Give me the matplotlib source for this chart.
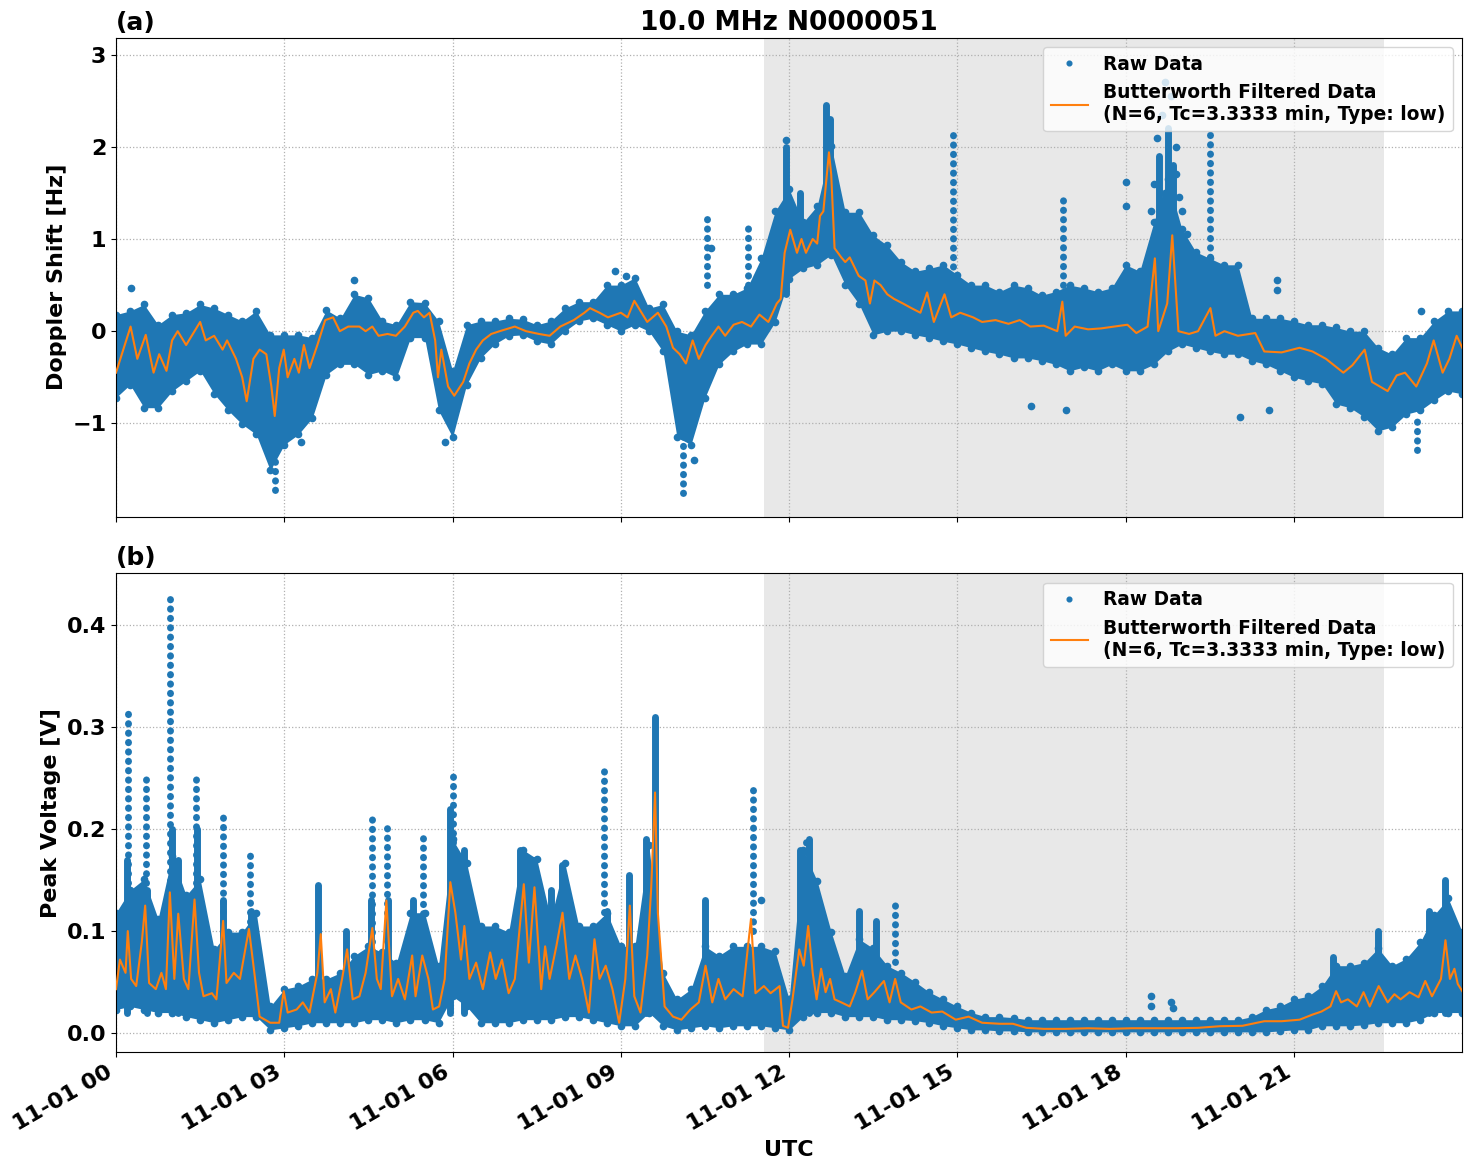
import numpy as np
import pandas as pd
import matplotlib
matplotlib.use('Agg')
import matplotlib.pyplot as plt
import matplotlib.dates as mdates

plt.rcParams['font.family'] = ['DejaVu Sans']
plt.rcParams['font.weight'] = 'bold'
plt.rcParams['axes.labelweight'] = 'bold'
plt.rcParams['axes.titleweight'] = 'bold'

base = pd.Timestamp('2023-11-01 00:00')

# ---------------- (a) Doppler shift ----------------
# raw-data band, sampled every 15 min (hours 0..24)
band_t = np.arange(0, 24.01, 0.25)
dop_hi = [0.18, 0.22, 0.29, 0.07, 0.18, 0.2, 0.29, 0.25, 0.18, 0.11, 0.22, -0.04,
          -0.04, -0.04, -0.07, 0.23, 0.14, 0.4, 0.36, 0.11, 0.07, 0.32, 0.31, 0.11,
          -0.43, 0.07, 0.11, 0.11, 0.14, 0.13, 0.07, 0.11, 0.25, 0.32, 0.32, 0.5,
          0.5, 0.58, 0.25, 0.29, 0.0, -0.04, 0.22, 0.4, 0.4, 0.47, 0.79, 1.3,
          1.54, 1.18, 1.36, 2.01, 1.29, 1.29, 1.04, 0.93, 0.75, 0.65, 0.68, 0.72,
          0.61, 0.5, 0.5, 0.43, 0.5, 0.47, 0.39, 0.43, 0.5, 0.47, 0.43, 0.47,
          0.72, 0.65, 1.18, 1.65, 1.11, 0.86, 0.79, 0.72, 0.72, 0.14, 0.14, 0.14,
          0.11, 0.07, 0.07, 0.04, 0.0, 0.0, -0.18, -0.25, -0.07, -0.07, 0.11, 0.22,
          0.22]
dop_lo = [-0.72, -0.58, -0.83, -0.83, -0.65, -0.54, -0.43, -0.68, -0.86, -1.01, -1.12, -1.51,
          -1.23, -1.12, -0.94, -0.47, -0.36, -0.36, -0.47, -0.43, -0.5, -0.07, -0.07, -0.86,
          -1.15, -0.58, -0.29, -0.14, -0.05, -0.04, -0.11, -0.14, 0.0, 0.11, 0.14, 0.07,
          0.0, 0.07, 0.0, -0.22, -1.15, -1.23, -0.72, -0.36, -0.22, -0.14, -0.14, 0.1,
          0.57, 0.68, 0.72, 0.83, 0.5, 0.29, -0.04, 0.0, 0.0, -0.04, -0.07, -0.11,
          -0.14, -0.18, -0.22, -0.25, -0.29, -0.29, -0.32, -0.36, -0.43, -0.39, -0.43, -0.36,
          -0.43, -0.43, -0.36, -0.22, -0.14, -0.18, -0.22, -0.25, -0.25, -0.32, -0.36, -0.43,
          -0.5, -0.54, -0.57, -0.79, -0.83, -0.93, -1.08, -1.04, -0.9, -0.86, -0.75, -0.65,
          -0.68]

# Butterworth filtered line (hour, value)
dop_ft = [0.0, 0.26, 0.38, 0.53, 0.67, 0.77, 0.9, 1.0, 1.1, 1.25, 1.5, 1.6, 1.75, 1.9, 1.98,
          2.14, 2.25, 2.33, 2.45, 2.56, 2.68, 2.77, 2.83, 2.91, 2.99, 3.06, 3.18, 3.26, 3.35,
          3.45, 3.59, 3.73, 3.87, 3.99, 4.14, 4.34, 4.45, 4.57, 4.68, 4.84, 4.99, 5.15, 5.3,
          5.38, 5.49, 5.59, 5.69, 5.74, 5.8, 5.92, 6.03, 6.19, 6.3, 6.42, 6.54, 6.69, 6.84,
          7.11, 7.31, 7.54, 7.73, 7.92, 8.16, 8.35, 8.45, 8.62, 8.77, 9.0, 9.12, 9.24, 9.47,
          9.66, 9.81, 9.93, 10.05, 10.16, 10.28, 10.39, 10.51, 10.62, 10.74, 10.86, 11.01,
          11.16, 11.32, 11.47, 11.63, 11.78, 11.85, 11.92, 12.02, 12.14, 12.22, 12.3, 12.42,
          12.5, 12.55, 12.61, 12.71, 12.75, 12.81, 12.93, 13.0, 13.08, 13.24, 13.36, 13.44,
          13.52, 13.63, 13.75, 13.87, 14.03, 14.18, 14.34, 14.46, 14.58, 14.77, 14.89, 15.05,
          15.28, 15.44, 15.68, 15.91, 16.11, 16.3, 16.54, 16.78, 16.87, 16.93, 17.09, 17.33,
          17.56, 17.8, 18.03, 18.19, 18.39, 18.52, 18.58, 18.74, 18.83, 18.94, 19.13, 19.29,
          19.51, 19.6, 19.76, 20.0, 20.31, 20.47, 20.78, 21.1, 21.33, 21.57, 21.88, 22.04,
          22.26, 22.39, 22.67, 22.83, 22.98, 23.18, 23.37, 23.49, 23.65, 23.77, 23.9, 24.0]
dop_fv = [-0.45, 0.05, -0.3, -0.04, -0.45, -0.25, -0.43, -0.1, 0.0, -0.15, 0.1, -0.1, -0.05, -0.2, -0.1,
          -0.3, -0.5, -0.76, -0.3, -0.2, -0.25, -0.6, -0.92, -0.4, -0.2, -0.5, -0.3, -0.45, -0.15,
          -0.4, -0.15, 0.12, 0.15, 0.0, 0.05, 0.05, 0.0, 0.05, -0.05, -0.03, -0.05, 0.05, 0.2,
          0.22, 0.15, 0.2, -0.1, -0.5, -0.2, -0.6, -0.7, -0.55, -0.35, -0.2, -0.1, -0.03, 0.0,
          0.05, 0.0, -0.03, -0.05, 0.05, 0.12, 0.2, 0.25, 0.2, 0.15, 0.2, 0.15, 0.33, 0.1,
          0.2, 0.05, -0.18, -0.25, -0.35, -0.1, -0.3, -0.15, -0.05, 0.05, -0.05, 0.07,
          0.1, 0.05, 0.18, 0.1, 0.3, 0.35, 0.85, 1.1, 0.85, 1.0, 0.85, 1.0,
          0.95, 1.25, 1.3, 1.94, 1.7, 0.9, 0.8, 0.75, 0.8, 0.6, 0.55, 0.3,
          0.55, 0.5, 0.4, 0.35, 0.3, 0.25, 0.2, 0.42, 0.1, 0.4, 0.15, 0.2,
          0.15, 0.1, 0.12, 0.08, 0.12, 0.05, 0.06, 0.0, 0.32, -0.05, 0.05, 0.02,
          0.03, 0.05, 0.07, -0.02, 0.05, 0.79, 0.0, 0.3, 1.04, 0.0, -0.03, 0.0,
          0.25, -0.05, 0.0, -0.05, -0.02, -0.22, -0.23, -0.18, -0.22, -0.3, -0.45, -0.37,
          -0.2, -0.55, -0.65, -0.48, -0.45, -0.6, -0.35, -0.1, -0.45, -0.3, -0.05, -0.18]

# dense bursts (hour, low, high) and dotted columns of sparse points
dop_burst_t = [11.95, 12.2, 12.65, 12.72, 18.6, 18.75, 18.85]
dop_burst_lo = [0.4, 0.8, 1.0, 1.0, 0.2, 0.2, 0.2]
dop_burst_hi = [2.0, 1.5, 2.45, 2.3, 1.9, 2.2, 1.8]
dop_col_t = [10.53, 14.93, 16.89, 19.5, 11.26, 2.83, 10.1, 23.19]
dop_col_lo = [0.5, 0.6, 0.5, 0.8, 0.5, -1.72, -1.76, -1.29]
dop_col_hi = [1.31, 2.17, 1.45, 2.14, 1.19, -1.2, -1.1, -0.9]
dop_pt_t = [0.27, 4.25, 5.87, 8.9, 9.1, 11.95, 18.0, 18.0, 18.7, 18.8, 18.9, 19.0, 20.7,
            20.7, 16.32, 16.93, 20.04, 20.55, 23.26, 3.3, 10.3, 10.6, 18.55, 18.65, 18.7,
            18.95, 18.5, 18.9, 19.1, 18.45]
dop_pt_v = [0.47, 0.56, -1.2, 0.65, 0.6, 2.07, 1.62, 1.36, 2.7, 2.55, 1.7, 1.3, 0.55,
            0.45, -0.81, -0.86, -0.93, -0.86, 0.22, -1.2, -1.4, 0.9, 2.1, 2.35, 1.5,
            1.45, 1.6, 2.0, 1.05, 1.3]

# ---------------- (b) Peak voltage ----------------
pv_hi = [0.118, 0.14, 0.151, 0.112, 0.174, 0.135, 0.151, 0.082, 0.099, 0.099, 0.118, 0.026,
         0.043, 0.046, 0.053, 0.053, 0.059, 0.076, 0.085, 0.079, 0.069, 0.118, 0.118, 0.066,
         0.19, 0.167, 0.105, 0.105, 0.099, 0.18, 0.171, 0.112, 0.167, 0.105, 0.105, 0.118,
         0.085, 0.085, 0.184, 0.059, 0.033, 0.043, 0.085, 0.076, 0.085, 0.085, 0.085, 0.08,
         0.033, 0.18, 0.149, 0.099, 0.056, 0.092, 0.083, 0.066, 0.059, 0.05, 0.04, 0.033,
         0.026, 0.02, 0.016, 0.016, 0.015, 0.013, 0.013, 0.013, 0.013, 0.013, 0.013, 0.013,
         0.013, 0.013, 0.013, 0.013, 0.013, 0.013, 0.013, 0.013, 0.013, 0.016, 0.023, 0.026,
         0.033, 0.036, 0.046, 0.066, 0.066, 0.069, 0.083, 0.066, 0.073, 0.089, 0.116, 0.132,
         0.099]
pv_lo = [0.023, 0.026, 0.023, 0.02, 0.02, 0.016, 0.013, 0.01, 0.013, 0.016, 0.016, 0.003,
         0.005, 0.007, 0.01, 0.01, 0.01, 0.01, 0.013, 0.013, 0.01, 0.013, 0.013, 0.01,
         0.036, 0.026, 0.01, 0.01, 0.01, 0.013, 0.013, 0.013, 0.016, 0.016, 0.013, 0.01,
         0.007, 0.007, 0.02, 0.007, 0.003, 0.005, 0.007, 0.005, 0.007, 0.007, 0.007, 0.005,
         0.003, 0.016, 0.02, 0.02, 0.016, 0.016, 0.016, 0.013, 0.013, 0.012, 0.01, 0.007,
         0.005, 0.003, 0.003, 0.002, 0.002, 0.001, 0.001, 0.001, 0.001, 0.001, 0.001, 0.001,
         0.001, 0.001, 0.001, 0.001, 0.001, 0.001, 0.001, 0.001, 0.001, 0.001, 0.001, 0.002,
         0.003, 0.003, 0.007, 0.007, 0.007, 0.008, 0.01, 0.01, 0.01, 0.013, 0.02, 0.02,
         0.02]

pv_ft = [0.0, 0.07, 0.17, 0.21, 0.27, 0.36, 0.46, 0.52, 0.59, 0.71, 0.81, 0.89, 0.96, 1.04,
         1.11, 1.21, 1.29, 1.4, 1.48, 1.56, 1.71, 1.79, 1.91, 1.97, 2.1, 2.21, 2.37, 2.48,
         2.56, 2.75, 2.91, 2.99, 3.06, 3.22, 3.33, 3.45, 3.59, 3.65, 3.72, 3.83, 3.91, 4.03,
         4.12, 4.22, 4.34, 4.45, 4.57, 4.65, 4.72, 4.82, 4.92, 5.03, 5.15, 5.28, 5.34, 5.46,
         5.57, 5.65, 5.76, 5.86, 5.96, 6.05, 6.15, 6.21, 6.3, 6.42, 6.54, 6.67, 6.77, 6.88,
         7.0, 7.11, 7.27, 7.36, 7.46, 7.58, 7.65, 7.73, 7.85, 7.96, 8.08, 8.19, 8.31, 8.43,
         8.53, 8.62, 8.73, 8.85, 8.97, 9.08, 9.16, 9.24, 9.35, 9.47, 9.54, 9.61, 9.66, 9.78,
         9.93, 10.08, 10.24, 10.39, 10.51, 10.63, 10.74, 10.86, 11.01, 11.17, 11.32, 11.4,
         11.55, 11.67, 11.83, 11.89, 11.98, 12.06, 12.18, 12.26, 12.34, 12.42, 12.49, 12.57,
         12.65, 12.73, 12.81, 12.93, 13.08, 13.18, 13.3, 13.4, 13.52, 13.69, 13.79, 13.89,
         13.99, 14.18, 14.34, 14.54, 14.73, 14.97, 15.2, 15.44, 15.75, 15.99, 16.23, 16.54,
         16.93, 17.33, 17.72, 18.11, 18.5, 18.9, 19.29, 19.68, 20.08, 20.47, 20.78, 21.1,
         21.33, 21.49, 21.65, 21.75, 21.84, 21.96, 22.12, 22.24, 22.35, 22.51, 22.67, 22.79,
         22.9, 23.06, 23.22, 23.34, 23.46, 23.62, 23.7, 23.78, 23.86, 23.92, 24.0]
pv_fv = [0.043, 0.072, 0.059, 0.1, 0.053, 0.046, 0.089, 0.125, 0.049, 0.043, 0.059, 0.043, 0.138, 0.053,
         0.117, 0.053, 0.043, 0.131, 0.059, 0.036, 0.039, 0.033, 0.11, 0.049, 0.059, 0.053, 0.102, 0.053,
         0.016, 0.01, 0.01, 0.041, 0.02, 0.023, 0.03, 0.02, 0.059, 0.097, 0.03, 0.043, 0.02, 0.053,
         0.082, 0.033, 0.036, 0.059, 0.103, 0.053, 0.043, 0.13, 0.036, 0.053, 0.033, 0.076, 0.036, 0.076,
         0.053, 0.023, 0.026, 0.053, 0.148, 0.118, 0.072, 0.105, 0.053, 0.069, 0.043, 0.079, 0.053, 0.072,
         0.039, 0.053, 0.146, 0.069, 0.143, 0.043, 0.085, 0.053, 0.085, 0.118, 0.053, 0.076, 0.053, 0.02,
         0.092, 0.053, 0.066, 0.043, 0.01, 0.053, 0.125, 0.036, 0.02, 0.076, 0.141, 0.236, 0.118, 0.026,
         0.016, 0.013, 0.023, 0.03, 0.066, 0.03, 0.053, 0.033, 0.043, 0.036, 0.112, 0.039,
         0.046, 0.039, 0.046, 0.007, 0.005, 0.033, 0.082, 0.066, 0.105, 0.059, 0.033, 0.063,
         0.04, 0.053, 0.033, 0.03, 0.026, 0.04, 0.061, 0.033, 0.04, 0.051, 0.03, 0.053,
         0.03, 0.023, 0.026, 0.02, 0.021, 0.013, 0.016, 0.01, 0.009, 0.009, 0.005, 0.004,
         0.004, 0.0046, 0.004, 0.0046, 0.0046, 0.0046, 0.005, 0.0066, 0.007, 0.0115, 0.0115, 0.013,
         0.018, 0.021, 0.026, 0.041, 0.03, 0.033, 0.026, 0.04, 0.026, 0.046, 0.03, 0.038,
         0.033, 0.04, 0.035, 0.051, 0.036, 0.053, 0.091, 0.053, 0.063, 0.048, 0.041]

pv_burst_t = [0.2, 0.55, 1.0, 1.1, 1.45, 1.9, 2.4, 3.6, 4.1, 4.55, 4.85, 5.3, 5.95, 6.2,
              7.2, 7.45, 7.75, 7.95, 8.75, 9.15, 9.45, 9.6, 10.5, 12.2, 12.35, 13.25, 13.55,
              21.7, 22.5, 23.4, 23.7]
pv_burst_lo = [0.02] * 31
pv_burst_hi = [0.17, 0.14, 0.2, 0.17, 0.2, 0.13, 0.12, 0.145, 0.1, 0.13, 0.13, 0.13, 0.22, 0.18,
               0.18, 0.17, 0.14, 0.165, 0.12, 0.155, 0.19, 0.31, 0.13, 0.18, 0.19, 0.12, 0.11,
               0.075, 0.1, 0.12, 0.15]
pv_col_t = [0.21, 0.54, 0.97, 1.42, 1.9, 2.39, 4.56, 4.83, 5.47, 6.0, 8.7, 11.36, 13.88, 12.3]
pv_col_lo = [0.12, 0.12, 0.14, 0.12, 0.11, 0.1, 0.08, 0.09, 0.08, 0.15, 0.1, 0.1, 0.07, 0.15]
pv_col_hi = [0.32, 0.25, 0.43, 0.255, 0.217, 0.18, 0.217, 0.205, 0.197, 0.257, 0.258, 0.238, 0.131, 0.19]
pv_pt_t = [18.45, 18.45, 18.8, 18.85, 11.5]
pv_pt_v = [0.036, 0.026, 0.03, 0.024, 0.13]

night_start, night_end = 11.55, 22.6


def hrs(h):
    return base + pd.to_timedelta(np.asarray(h, dtype=float), unit='h')


fig, axes = plt.subplots(2, 1, figsize=(14.72, 11.72), dpi=100, sharex=True)

panels = [
    (axes[0], dop_hi, dop_lo, dop_ft, dop_fv, dop_burst_t, dop_burst_lo, dop_burst_hi,
     dop_col_t, dop_col_lo, dop_col_hi, dop_pt_t, dop_pt_v, 'Doppler Shift [Hz]', (-2.01, 3.18), '(a)'),
    (axes[1], pv_hi, pv_lo, pv_ft, pv_fv, pv_burst_t, pv_burst_lo, pv_burst_hi,
     pv_col_t, pv_col_lo, pv_col_hi, pv_pt_t, pv_pt_v, 'Peak Voltage [V]', (-0.0187, 0.451), '(b)'),
]

for (ax, hi, lo, ft, fv, bt, blo, bhi, ct, clo, chi, pt, pvv, ylab, ylim, tag) in panels:
    ax.axvspan(hrs(night_start), hrs(night_end), color='gray', alpha=0.18, lw=0, zorder=0.5)
    ax.fill_between(hrs(band_t), lo, hi, color='C0', lw=0, zorder=2)
    ax.plot(hrs(band_t), hi, '.', color='C0', ms=9, zorder=2)
    ax.plot(hrs(band_t), lo, '.', color='C0', ms=9, zorder=2)
    ax.vlines(hrs(bt), blo, bhi, color='C0', lw=5, capstyle='round', zorder=2)
    ax.vlines(hrs(ct), clo, chi, color='C0', lw=5, linestyles=[(0, (0.05, 1.3))],
              capstyle='round', zorder=2)
    ax.plot(hrs(pt), pvv, '.', color='C0', ms=9, zorder=2, label='Raw Data')
    ax.plot(hrs(ft), fv, color='C1', lw=1.5, zorder=3,
            label='Butterworth Filtered Data\n(N=6, Tc=3.3333 min, Type: low)')
    ax.set_ylabel(ylab, fontsize=16)
    ax.set_ylim(*ylim)
    ax.grid(True, linestyle=':', color='#b0b0b0', lw=0.9)
    ax.tick_params(labelsize=16)
    ax.set_title(tag, loc='left', fontsize=18)
    ax.legend(loc='upper right', fontsize=13.4, markerscale=0.75)

axes[0].set_title('10.0 MHz N0000051', fontsize=19)
axes[0].set_yticks([-1, 0, 1, 2, 3])
axes[1].set_yticks([0.0, 0.1, 0.2, 0.3, 0.4])

axes[1].set_xlim(hrs(0), hrs(23.995))
axes[1].xaxis.set_major_locator(mdates.HourLocator(byhour=range(0, 24, 3)))
axes[1].xaxis.set_major_formatter(mdates.DateFormatter('%m-%d %H'))
axes[1].set_xlabel('UTC', fontsize=16)
fig.autofmt_xdate(rotation=30, ha='right')

fig.subplots_adjust(left=0.0788, right=0.9932, top=0.9676, bottom=0.1024, hspace=0.119)
fig.savefig('out.png', dpi=100)
